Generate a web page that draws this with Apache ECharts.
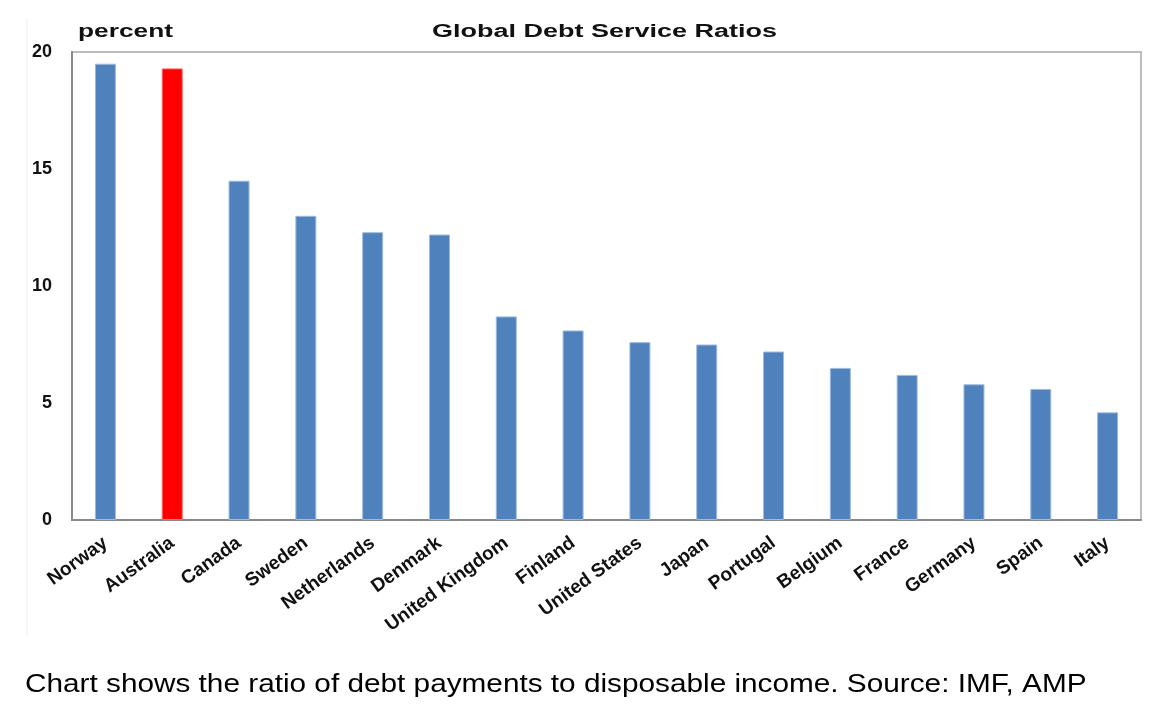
<!DOCTYPE html>
<html>
<head>
<meta charset="utf-8">
<script src="https://cdn.jsdelivr.net/npm/echarts@6/dist/echarts.min.js"></script>
<style>
  html, body { margin: 0; padding: 0; background: #fff; }
  #main { width: 1172px; height: 715px; }
</style>
</head>
<body>
<div id="main"></div>
<script>
var countries = ['Norway', 'Australia', 'Canada', 'Sweden', 'Netherlands', 'Denmark',
    'United Kingdom', 'Finland', 'United States', 'Japan', 'Portugal', 'Belgium',
    'France', 'Germany', 'Spain', 'Italy'];
var debtService = [19.5, 19.3, 14.5, 13.0, 12.3, 12.2, 8.7, 8.1, 7.6, 7.5, 7.2, 6.5, 6.2, 5.8, 5.6, 4.6];
var highlight = 'Australia';

var chartTitle = 'Global Debt Service Ratios';
var unitLabel = 'percent';
var caption = 'Chart shows the ratio of debt payments to disposable income. Source: IMF, AMP';

var myChart = echarts.init(document.getElementById('main'));

var barData = debtService.map(function (v, i) {
    var item = { value: v };
    if (countries[i] === highlight) {
        item.itemStyle = { color: '#ff0000', borderColor: '#ff6a6a' };
    }
    return item;
});

// the source image is stretched sideways, so the texts get a scaleX
var option = {
    backgroundColor: '#fff',
    animation: false,
    textStyle: { fontFamily: 'Liberation Sans, Arial, sans-serif' },
    graphic: [
        {
            type: 'line',
            shape: { x1: 27, y1: 18, x2: 27, y2: 636 },
            style: { stroke: '#f0f0f0', lineWidth: 1 }
        },
        {
            type: 'text', x: 432, y: 23, scaleX: 1.5,
            style: { text: chartTitle, fill: '#111',
                font: 'bold 18px Liberation Sans, Arial, sans-serif', verticalAlign: 'top' }
        },
        {
            type: 'text', x: 78, y: 23, scaleX: 1.46,
            style: { text: unitLabel, fill: '#111',
                font: 'bold 18px Liberation Sans, Arial, sans-serif', verticalAlign: 'top' }
        },
        {
            type: 'text', x: 25, y: 673, scaleX: 1.19,
            style: { text: caption, fill: '#000',
                font: '25px Liberation Sans, Arial, sans-serif', verticalAlign: 'top' }
        }
    ],
    grid: {
        left: 72, top: 52, right: 31, bottom: 195,
        show: true,
        borderColor: '#bcbcbc',
        borderWidth: 2
    },
    xAxis: {
        type: 'category',
        data: countries,
        axisLine: { lineStyle: { color: '#8a8a8a', width: 2 } },
        axisTick: { show: false },
        axisLabel: {
            rotate: 36,
            interval: 0,
            margin: 21,
            fontSize: 19,
            fontWeight: 'bold',
            color: '#111'
        }
    },
    yAxis: {
        type: 'value',
        min: 0, max: 20, interval: 5,
        axisLine: { show: true, lineStyle: { color: '#8a8a8a', width: 2 } },
        axisTick: { show: false },
        splitLine: { show: false },
        axisLabel: { fontSize: 18, fontWeight: 'bold', color: '#111', margin: 20 }
    },
    series: [
        {
            type: 'bar',
            data: barData,
            barWidth: 21,
            itemStyle: { color: '#4f81bd', borderColor: '#9dbbe0', borderWidth: 1 }
        }
    ]
};

myChart.setOption(option);
</script>
</body>
</html>
